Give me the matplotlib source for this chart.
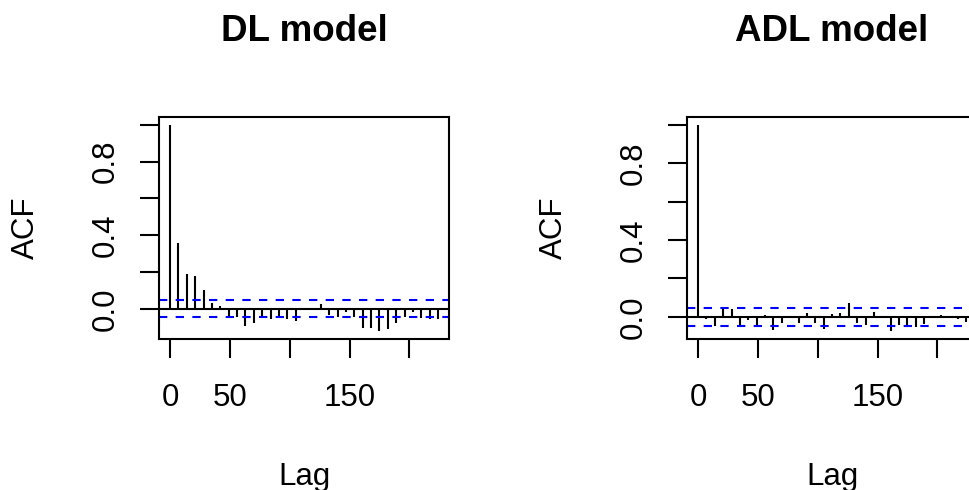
import numpy as np
import matplotlib
matplotlib.use("Agg")
import matplotlib.pyplot as plt

plt.rcParams['font.family'] = ['Liberation Sans', 'DejaVu Sans']

# lags (frequency 1/7, so lag steps of 7)
lags = [7 * i for i in range(33)]

acf_dl = [1.0, 0.36, 0.19, 0.18, 0.105, 0.029, 0.014, -0.041, -0.043, -0.092, -0.075,
          -0.045, -0.055, -0.045, -0.055, -0.064, -0.008, 0.004, 0.025, -0.036, -0.042,
          -0.019, -0.046, -0.103, -0.103, -0.121, -0.112, -0.079, -0.042, -0.016, -0.049,
          -0.056, -0.056]

acf_adl = [1.0, -0.010, -0.050, 0.047, 0.040, -0.042, -0.017, -0.040, 0.012, -0.066, -0.031,
           -0.005, -0.030, 0.022, -0.030, -0.061, 0.013, 0.019, 0.074, -0.034, -0.040,
           0.027, 0.005, -0.074, -0.044, -0.055, -0.055, -0.035, -0.004, 0.008, 0.005,
           -0.012, -0.026]

ci = 0.047
titles = ['DL model', 'ADL model']
xticks = [0, 50, 100, 150, 200]
xticklabels = ['0', '50', '', '150', '']
yticks = [0.0, 0.2, 0.4, 0.6, 0.8, 1.0]
yticklabels = ['0.0', '', '0.4', '', '0.8', '']

W, H = 970, 490
fig = plt.figure(figsize=(9.7, 4.9), dpi=100)

lw = 1.5
fs = 22.5
for left_px, acf, title in [(159.3, acf_dl, titles[0]), (687.3, acf_adl, titles[1])]:
    ax = fig.add_axes([left_px / W, 1 - 339.3 / H, 289.5 / W, 222.6 / H])
    ax.vlines(lags, 0, acf, color='black', lw=lw)
    ax.axhline(0, color='black', lw=lw)
    ax.axhline(ci, color='blue', lw=lw, ls=(0, (4, 4)))
    ax.axhline(-ci, color='blue', lw=lw, ls=(0, (4, 4)))

    span = lags[-1] - lags[0]
    ax.set_xlim(lags[0] - 0.04 * span, lags[-1] + 0.04 * span)
    lo = min(min(acf), -ci)
    hi = max(max(acf), ci)
    ax.set_ylim(lo - 0.04 * (hi - lo), hi + 0.04 * (hi - lo))

    ax.set_xticks(xticks)
    ax.set_xticklabels(xticklabels)
    ax.set_yticks(yticks)
    ax.set_yticklabels(yticklabels, rotation=90, va='center')
    ax.tick_params(axis='both', direction='out', length=13.5, width=lw, labelsize=fs)
    ax.tick_params(axis='x', pad=18)
    ax.tick_params(axis='y', pad=14)
    for sp in ax.spines.values():
        sp.set_linewidth(lw)

    ax.set_xlabel('Lag', fontsize=fs)
    ax.xaxis.set_label_coords(0.5, -0.552)
    ax.set_ylabel('ACF', fontsize=fs)
    ax.yaxis.set_label_coords(-0.41, 0.5)
    ax.set_title(title, fontsize=26.5, fontweight='bold', y=1.3414, pad=0)

fig.savefig('out.png', dpi=100)
